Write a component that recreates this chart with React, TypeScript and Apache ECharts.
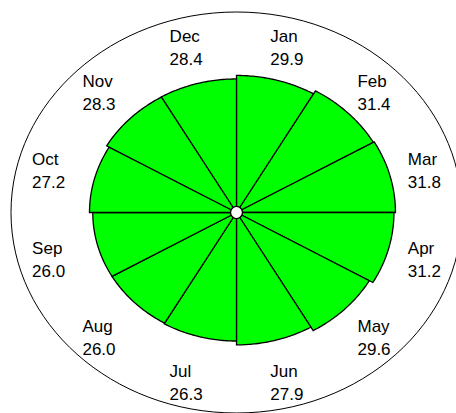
import React, { useEffect, useRef } from "react";
import * as echarts from "echarts";

// ---- data ----
const MONTHS = ["Jan", "Feb", "Mar", "Apr", "May", "Jun", "Jul", "Aug", "Sep", "Oct", "Nov", "Dec"];
const VALUES = [29.9, 31.4, 31.8, 31.2, 29.6, 27.9, 26.3, 26.0, 26.0, 27.2, 28.3, 28.4];
// value reached by the outer ring (radius is drawn as sqrt(value), area-proportional)
const OUTER_VALUE = 64;
// value at which the labels sit
const LABEL_VALUE = 47.6;

const FONT_SIZE = 17;
const FONT_FAMILY = "'Liberation Sans', Arial, Helvetica, sans-serif";

export default function App() {
  const ref = useRef<HTMLDivElement>(null);

  useEffect(() => {
    if (!ref.current) return;
    const chart = echarts.init(ref.current, null, { renderer: "svg" });
    const ctx = document.createElement("canvas").getContext("2d")!;
    ctx.font = `${FONT_SIZE}px ${FONT_FAMILY}`;

    const n = MONTHS.length;
    const step = 360 / n;
    const rMax = Math.sqrt(OUTER_VALUE);
    const rLab = Math.sqrt(LABEL_VALUE);
    const rad = (d: number) => (d * Math.PI) / 180;

    const sectorData = VALUES.map((v, i) => [i, v]);

    chart.setOption({
      animation: false,
      backgroundColor: "#ffffff",
      grid: { left: 11, top: 12, width: 451, height: 401, outerBoundsMode: "none", containLabel: false },
      xAxis: { type: "value", min: -rMax, max: rMax, show: false },
      yAxis: { type: "value", min: -rMax, max: rMax, show: false },
      series: [
        {
          type: "custom",
          coordinateSystem: "cartesian2d",
          silent: true,
          z: 1,
          data: [[0, 0]],
          renderItem: (_p: any, api: any) => {
            const c = api.coord([0, 0]);
            const s = api.size([rMax, rMax]);
            return {
              type: "ellipse",
              shape: { cx: c[0], cy: c[1], rx: s[0], ry: s[1] },
              style: { fill: "none", stroke: "#000", lineWidth: 1 },
            };
          },
        },
        {
          type: "custom",
          coordinateSystem: "cartesian2d",
          silent: true,
          z: 2,
          data: sectorData,
          renderItem: (_p: any, api: any) => {
            const i = api.value(0);
            const v = api.value(1);
            const r = Math.sqrt(v);
            const a0 = 90 - i * step;
            const a1 = 90 - (i + 1) * step;
            const pts: number[][] = [api.coord([0, 0])];
            const N = 40;
            for (let k = 0; k <= N; k++) {
              const a = rad(a0 + ((a1 - a0) * k) / N);
              pts.push(api.coord([r * Math.cos(a), r * Math.sin(a)]));
            }
            return {
              type: "polygon",
              shape: { points: pts },
              style: { fill: "#00ff00", stroke: "#000", lineWidth: 1.3, lineJoin: "miter" },
            };
          },
        },
        {
          type: "custom",
          coordinateSystem: "cartesian2d",
          silent: true,
          z: 3,
          data: [[0, 0]],
          renderItem: (_p: any, api: any) => {
            const c = api.coord([0, 0]);
            return {
              type: "circle",
              shape: { cx: c[0], cy: c[1], r: 6 },
              style: { fill: "#fff", stroke: "#000", lineWidth: 1.3 },
            };
          },
        },
        {
          type: "custom",
          coordinateSystem: "cartesian2d",
          silent: true,
          z: 4,
          data: sectorData,
          renderItem: (_p: any, api: any) => {
            const i = api.value(0);
            const v = api.value(1);
            const a = rad(90 - (i + 0.5) * step);
            const p = api.coord([rLab * Math.cos(a), rLab * Math.sin(a)]);
            const l1 = MONTHS[i];
            const l2 = Number(v).toFixed(1);
            const w = Math.max(ctx.measureText(l1).width, ctx.measureText(l2).width);
            return {
              type: "text",
              x: p[0] - w / 2,
              y: p[1] + 3,
              style: {
                text: l1 + "\n" + l2,
                fill: "#000",
                fontSize: FONT_SIZE,
                fontFamily: FONT_FAMILY,
                lineHeight: 23,
                align: "left",
                textAlign: "left",
                verticalAlign: "middle",
                textVerticalAlign: "middle",
              },
            };
          },
        },
      ],
    });

    return () => chart.dispose();
  }, []);

  return (
    <div
      ref={ref}
      style={{ position: "absolute", left: 0, top: 0, width: 456, height: 413, background: "#fff" }}
    />
  );
}
